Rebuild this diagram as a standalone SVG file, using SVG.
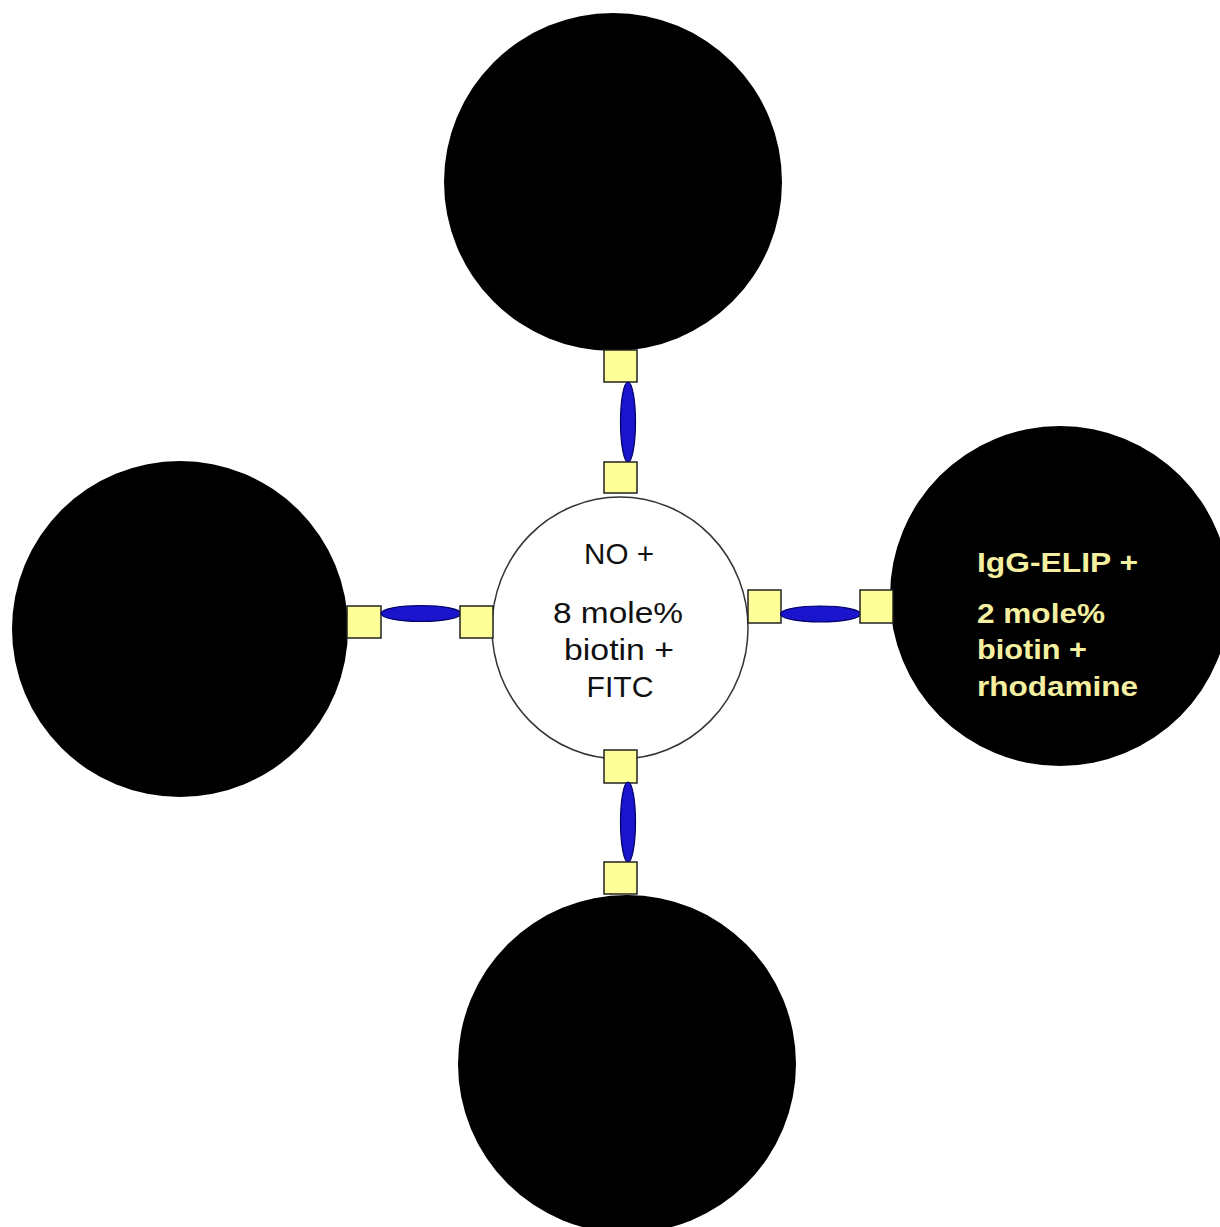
<svg xmlns="http://www.w3.org/2000/svg" width="1220" height="1227" viewBox="0 0 1220 1227">
<style>
.big{fill:#000}
.sq{fill:#ffff99;stroke:#222;stroke-width:1.5}
.lk{fill:#1a14cc;stroke:#000066;stroke-width:1.2}
.t{font-family:"Liberation Sans",Arial,sans-serif;font-size:29px}
.tc{fill:#111;text-anchor:middle}
.ty{fill:#f5f0a0;font-weight:bold;font-size:28px}
</style>
<rect width="1220" height="1227" fill="#fff"/>
<g id="node-top"><circle class="big" cx="613" cy="182" r="169"/></g>
<g id="node-left"><circle class="big" cx="180" cy="629" r="168"/></g>
<g id="node-bottom"><circle class="big" cx="627" cy="1064" r="169"/></g>
<g id="node-right"><circle class="big" cx="1060" cy="596" r="170"/>
<text class="t ty" x="977" y="572" textLength="161" lengthAdjust="spacingAndGlyphs">IgG-ELIP +</text>
<text class="t ty" x="977" y="623" textLength="128" lengthAdjust="spacingAndGlyphs">2 mole%</text>
<text class="t ty" x="977" y="659" textLength="110" lengthAdjust="spacingAndGlyphs">biotin +</text>
<text class="t ty" x="977" y="696" textLength="161" lengthAdjust="spacingAndGlyphs">rhodamine</text>
</g>
<g id="node-center"><ellipse cx="620" cy="628" rx="128" ry="131" fill="#fff" stroke="#333" stroke-width="1.5"/>
<text class="t tc" x="619" y="564" textLength="70" lengthAdjust="spacingAndGlyphs">NO +</text>
<text class="t tc" x="618" y="623" textLength="130" lengthAdjust="spacingAndGlyphs">8 mole%</text>
<text class="t tc" x="619" y="660" textLength="110" lengthAdjust="spacingAndGlyphs">biotin +</text>
<text class="t tc" x="620" y="697" textLength="67" lengthAdjust="spacingAndGlyphs">FITC</text>
</g>
<g id="connectors">
<rect class="sq" x="604" y="350" width="33" height="32"/>
<ellipse class="lk" cx="628" cy="422" rx="7.5" ry="40"/>
<rect class="sq" x="604" y="462" width="33" height="31"/>
<rect class="sq" x="604" y="750" width="33" height="33"/>
<ellipse class="lk" cx="628" cy="822" rx="7.5" ry="40"/>
<rect class="sq" x="604" y="862" width="33" height="32"/>
<rect class="sq" x="347" y="606" width="34" height="32"/>
<ellipse class="lk" cx="421" cy="613.5" rx="40" ry="8"/>
<rect class="sq" x="460" y="606" width="33" height="32"/>
<rect class="sq" x="748" y="590" width="33" height="33"/>
<ellipse class="lk" cx="820.5" cy="614" rx="40" ry="8"/>
<rect class="sq" x="860" y="590" width="33" height="33"/>
</g>
</svg>
